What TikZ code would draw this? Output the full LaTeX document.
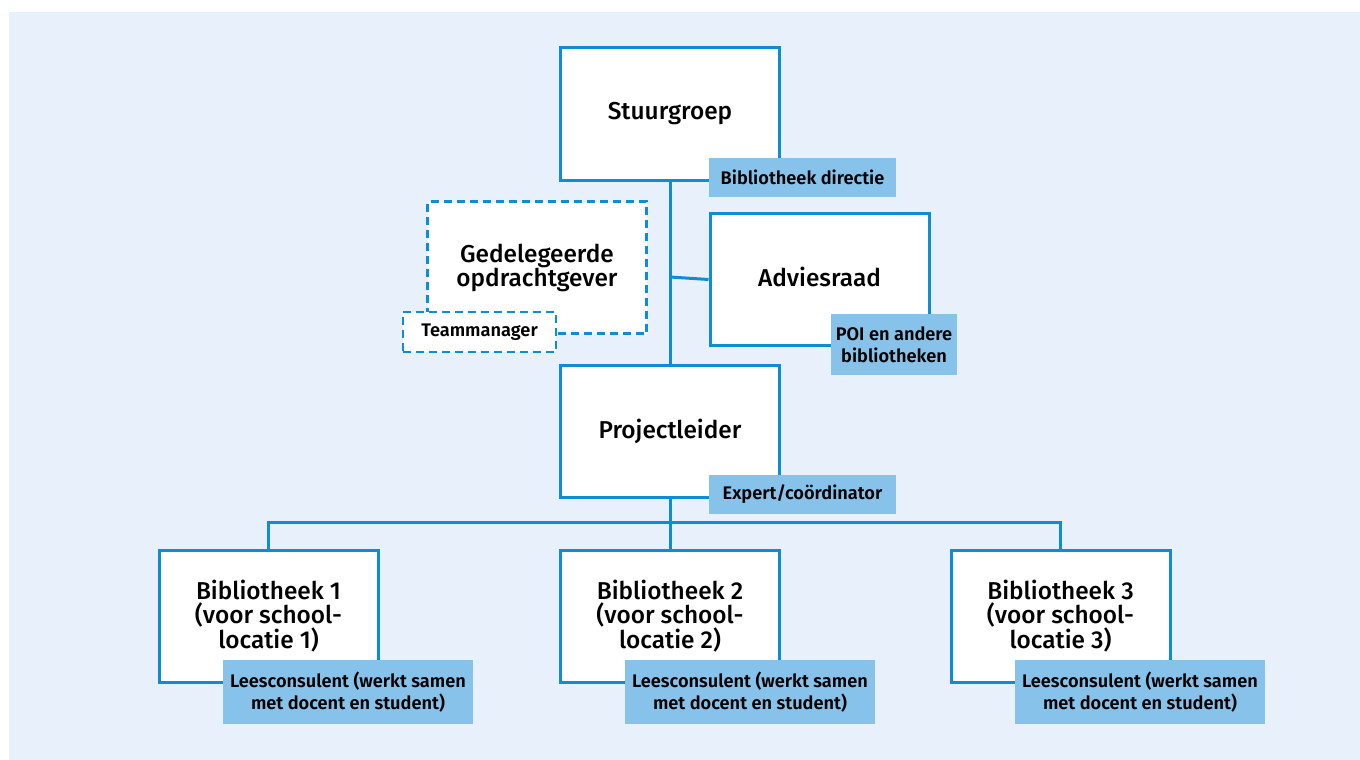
\documentclass[tikz,border=0pt]{standalone}
\usepackage{fontspec}
\setmainfont{Fira Sans}
\newfontfamily\mdfont{Fira Sans Medium}
\newfontfamily\sbfont{Fira Sans SemiBold}
\definecolor{bg}{HTML}{E8F1FB}
\definecolor{bordr}{HTML}{0E8DD6}
\definecolor{tagfill}{HTML}{86C2EA}
\begin{document}
\begin{tikzpicture}[x=1pt,y=-1pt,
  box/.style={draw=bordr,line width=3pt,fill=white,minimum width=219pt,minimum height=132pt,inner sep=0pt,align=center,font=\mdfont\fontsize{24.4}{24}\selectfont},
  dbox/.style={box,dash pattern=on 8pt off 5pt,line width=2.5pt},
  tag/.style={fill=tagfill,inner sep=0pt,align=center,font=\sbfont\fontsize{18.2}{22}\selectfont},
  conn/.style={draw=bordr,line width=3pt}]
\useasboundingbox (0,0) rectangle (1360,760);
\fill[white] (0,0) rectangle (1360,760);
\fill[bg] (9,12) rectangle (1360,760);
% connectors
\coordinate (jA) at (670,277);
\coordinate (jB) at (670,522);
% boxes
\node[box] (stuur) at (670,114) {Stuurgroep};
\node[box] (proj) at (670,431) {Projectleider\vphantom{S}};
\node[box] (advies) at (819.5,279.5) {Adviesraad\vphantom{gp}};
\node[dbox] (gedel) at (537,267.5) {Gedelegeerde\\opdrachtgever};
\node[box] (bib1) at (268.5,616) {Bibliotheek 1\\(voor school-\\locatie 1)};
\node[box] (bib2) at (670,616) {Bibliotheek 2\\(voor school-\\locatie 2)};
\node[box] (bib3) at (1060.5,616) {Bibliotheek 3\\(voor school-\\locatie 3)};
\draw[conn] (stuur.south) -- (proj.north);
\draw[conn] (jA) -- (advies.west);
\draw[conn] (proj.south) -- (jB);
\draw[conn] (bib1.north) |- (jB) -| (bib3.north);
\draw[conn] (jB) -- (bib2.north);
% tags
\node[tag,minimum width=187pt,minimum height=39pt] (t1) at (802.5,177.5) {Bibliotheek directie};
\node[dbox,minimum width=153pt,minimum height=40pt,font=\sbfont\fontsize{18.2}{22}\selectfont] (tm) at (479.5,332) {Teammanager};
\node[tag,minimum width=126pt,minimum height=61pt] (t2) at (894,344.5) {POI en andere\\bibliotheken};
\node[tag,minimum width=187pt,minimum height=39pt] (t3) at (802.5,494.5) {Expert/coördinator};
\node[tag,minimum width=250pt,minimum height=64pt] (t4) at (348,692) {Leesconsulent (werkt samen\\met docent en student)};
\node[tag,minimum width=250pt,minimum height=64pt] (t5) at (750,692) {Leesconsulent (werkt samen\\met docent en student)};
\node[tag,minimum width=250pt,minimum height=64pt] (t6) at (1140,692) {Leesconsulent (werkt samen\\met docent en student)};
\end{tikzpicture}
\end{document}
